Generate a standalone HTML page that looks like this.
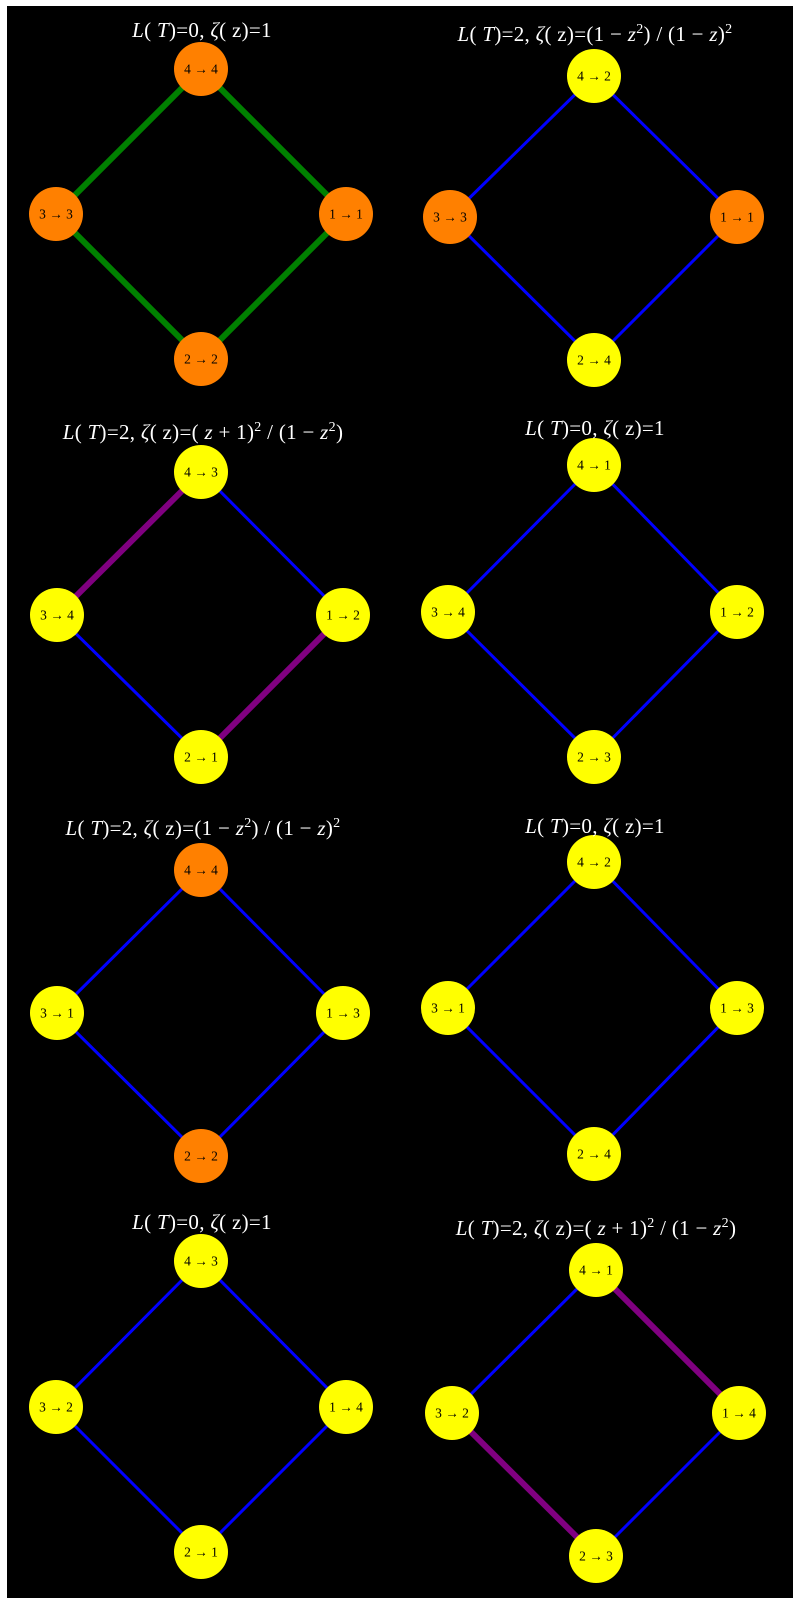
<!DOCTYPE html>
<html><head><meta charset="utf-8"><style>
html,body{margin:0;padding:0;background:#fff;}
svg{display:block}
text{font-family:"Liberation Serif",serif;}
.t{fill:#fff;font-size:21px;text-anchor:middle;letter-spacing:0.3px}
.n{fill:#000;font-size:13.5px;text-anchor:middle;dominant-baseline:central}
</style></head><body>
<svg width="800" height="1604" viewBox="0 0 800 1604" xmlns="http://www.w3.org/2000/svg">
<rect x="7" y="6" width="786" height="1592" fill="#000"/>

<!-- P1 -->
<g>
<line x1="201" y1="69" x2="346" y2="214" stroke="#008000" stroke-width="6"/>
<line x1="201" y1="69" x2="56" y2="214" stroke="#008000" stroke-width="6"/>
<line x1="56" y1="214" x2="201" y2="359" stroke="#008000" stroke-width="6"/>
<line x1="346" y1="214" x2="201" y2="359" stroke="#008000" stroke-width="6"/>
<circle cx="201" cy="69" r="27" fill="#ff8000"/><text class="n" x="201" y="69">4 → 4</text>
<circle cx="56" cy="214" r="27" fill="#ff8000"/><text class="n" x="56" y="214">3 → 3</text>
<circle cx="346" cy="214" r="27" fill="#ff8000"/><text class="n" x="346" y="214">1 → 1</text>
<circle cx="201" cy="359" r="27" fill="#ff8000"/><text class="n" x="201" y="359">2 → 2</text>
<text class="t" x="202" y="37"><tspan font-style="italic">L</tspan>( <tspan font-style="italic">T</tspan>)=0, <tspan font-style="italic">ζ</tspan>( z)=1</text>
</g>

<!-- P2 -->
<g>
<line x1="594" y1="76" x2="737" y2="217" stroke="#0000ff" stroke-width="3"/>
<line x1="594" y1="76" x2="450" y2="217" stroke="#0000ff" stroke-width="3"/>
<line x1="450" y1="217" x2="594" y2="360" stroke="#0000ff" stroke-width="3"/>
<line x1="737" y1="217" x2="594" y2="360" stroke="#0000ff" stroke-width="3"/>
<circle cx="594" cy="76" r="27" fill="#ffff00"/><text class="n" x="594" y="76">4 → 2</text>
<circle cx="450" cy="217" r="27" fill="#ff8000"/><text class="n" x="450" y="217">3 → 3</text>
<circle cx="737" cy="217" r="27" fill="#ff8000"/><text class="n" x="737" y="217">1 → 1</text>
<circle cx="594" cy="360" r="27" fill="#ffff00"/><text class="n" x="594" y="360">2 → 4</text>
<text class="t" x="595" y="41"><tspan font-style="italic">L</tspan>( <tspan font-style="italic">T</tspan>)=2, <tspan font-style="italic">ζ</tspan>( z)=(1 − <tspan font-style="italic">z</tspan><tspan font-size="14" dy="-8">2</tspan><tspan dy="8">) / (1 − </tspan><tspan font-style="italic">z</tspan>)<tspan font-size="14" dy="-8">2</tspan></text>
</g>

<!-- P3 -->
<g>
<line x1="201" y1="472" x2="343" y2="615" stroke="#0000ff" stroke-width="3"/>
<line x1="201" y1="472" x2="57" y2="615" stroke="#800080" stroke-width="6"/>
<line x1="57" y1="615" x2="201" y2="757" stroke="#0000ff" stroke-width="3"/>
<line x1="343" y1="615" x2="201" y2="757" stroke="#800080" stroke-width="6"/>
<circle cx="201" cy="472" r="27" fill="#ffff00"/><text class="n" x="201" y="472">4 → 3</text>
<circle cx="57" cy="615" r="27" fill="#ffff00"/><text class="n" x="57" y="615">3 → 4</text>
<circle cx="343" cy="615" r="27" fill="#ffff00"/><text class="n" x="343" y="615">1 → 2</text>
<circle cx="201" cy="757" r="27" fill="#ffff00"/><text class="n" x="201" y="757">2 → 1</text>
<text class="t" x="203" y="439"><tspan font-style="italic">L</tspan>( <tspan font-style="italic">T</tspan>)=2, <tspan font-style="italic">ζ</tspan>( z)=( <tspan font-style="italic">z</tspan> + 1)<tspan font-size="14" dy="-8">2</tspan><tspan dy="8"> / (1 − </tspan><tspan font-style="italic">z</tspan><tspan font-size="14" dy="-8">2</tspan><tspan dy="8">)</tspan></text>
</g>

<!-- P4 -->
<g>
<line x1="594" y1="465" x2="737" y2="612" stroke="#0000ff" stroke-width="3"/>
<line x1="594" y1="465" x2="448" y2="612" stroke="#0000ff" stroke-width="3"/>
<line x1="448" y1="612" x2="594" y2="757" stroke="#0000ff" stroke-width="3"/>
<line x1="737" y1="612" x2="594" y2="757" stroke="#0000ff" stroke-width="3"/>
<circle cx="594" cy="465" r="27" fill="#ffff00"/><text class="n" x="594" y="465">4 → 1</text>
<circle cx="448" cy="612" r="27" fill="#ffff00"/><text class="n" x="448" y="612">3 → 4</text>
<circle cx="737" cy="612" r="27" fill="#ffff00"/><text class="n" x="737" y="612">1 → 2</text>
<circle cx="594" cy="757" r="27" fill="#ffff00"/><text class="n" x="594" y="757">2 → 3</text>
<text class="t" x="595" y="435"><tspan font-style="italic">L</tspan>( <tspan font-style="italic">T</tspan>)=0, <tspan font-style="italic">ζ</tspan>( z)=1</text>
</g>

<!-- P5 -->
<g>
<line x1="201" y1="870" x2="343" y2="1013" stroke="#0000ff" stroke-width="3"/>
<line x1="201" y1="870" x2="57" y2="1013" stroke="#0000ff" stroke-width="3"/>
<line x1="57" y1="1013" x2="201" y2="1156" stroke="#0000ff" stroke-width="3"/>
<line x1="343" y1="1013" x2="201" y2="1156" stroke="#0000ff" stroke-width="3"/>
<circle cx="201" cy="870" r="27" fill="#ff8000"/><text class="n" x="201" y="870">4 → 4</text>
<circle cx="57" cy="1013" r="27" fill="#ffff00"/><text class="n" x="57" y="1013">3 → 1</text>
<circle cx="343" cy="1013" r="27" fill="#ffff00"/><text class="n" x="343" y="1013">1 → 3</text>
<circle cx="201" cy="1156" r="27" fill="#ff8000"/><text class="n" x="201" y="1156">2 → 2</text>
<text class="t" x="203" y="835"><tspan font-style="italic">L</tspan>( <tspan font-style="italic">T</tspan>)=2, <tspan font-style="italic">ζ</tspan>( z)=(1 − <tspan font-style="italic">z</tspan><tspan font-size="14" dy="-8">2</tspan><tspan dy="8">) / (1 − </tspan><tspan font-style="italic">z</tspan>)<tspan font-size="14" dy="-8">2</tspan></text>
</g>

<!-- P6 -->
<g>
<line x1="594" y1="862" x2="737" y2="1008" stroke="#0000ff" stroke-width="3"/>
<line x1="594" y1="862" x2="448" y2="1008" stroke="#0000ff" stroke-width="3"/>
<line x1="448" y1="1008" x2="594" y2="1154" stroke="#0000ff" stroke-width="3"/>
<line x1="737" y1="1008" x2="594" y2="1154" stroke="#0000ff" stroke-width="3"/>
<circle cx="594" cy="862" r="27" fill="#ffff00"/><text class="n" x="594" y="862">4 → 2</text>
<circle cx="448" cy="1008" r="27" fill="#ffff00"/><text class="n" x="448" y="1008">3 → 1</text>
<circle cx="737" cy="1008" r="27" fill="#ffff00"/><text class="n" x="737" y="1008">1 → 3</text>
<circle cx="594" cy="1154" r="27" fill="#ffff00"/><text class="n" x="594" y="1154">2 → 4</text>
<text class="t" x="595" y="833"><tspan font-style="italic">L</tspan>( <tspan font-style="italic">T</tspan>)=0, <tspan font-style="italic">ζ</tspan>( z)=1</text>
</g>

<!-- P7 -->
<g>
<line x1="201" y1="1261" x2="346" y2="1407" stroke="#0000ff" stroke-width="3"/>
<line x1="201" y1="1261" x2="56" y2="1407" stroke="#0000ff" stroke-width="3"/>
<line x1="56" y1="1407" x2="201" y2="1552" stroke="#0000ff" stroke-width="3"/>
<line x1="346" y1="1407" x2="201" y2="1552" stroke="#0000ff" stroke-width="3"/>
<circle cx="201" cy="1261" r="27" fill="#ffff00"/><text class="n" x="201" y="1261">4 → 3</text>
<circle cx="56" cy="1407" r="27" fill="#ffff00"/><text class="n" x="56" y="1407">3 → 2</text>
<circle cx="346" cy="1407" r="27" fill="#ffff00"/><text class="n" x="346" y="1407">1 → 4</text>
<circle cx="201" cy="1552" r="27" fill="#ffff00"/><text class="n" x="201" y="1552">2 → 1</text>
<text class="t" x="202" y="1229"><tspan font-style="italic">L</tspan>( <tspan font-style="italic">T</tspan>)=0, <tspan font-style="italic">ζ</tspan>( z)=1</text>
</g>

<!-- P8 -->
<g>
<line x1="596" y1="1270" x2="739" y2="1413" stroke="#800080" stroke-width="6"/>
<line x1="596" y1="1270" x2="452" y2="1413" stroke="#0000ff" stroke-width="3"/>
<line x1="452" y1="1413" x2="596" y2="1556" stroke="#800080" stroke-width="6"/>
<line x1="739" y1="1413" x2="596" y2="1556" stroke="#0000ff" stroke-width="3"/>
<circle cx="596" cy="1270" r="27" fill="#ffff00"/><text class="n" x="596" y="1270">4 → 1</text>
<circle cx="452" cy="1413" r="27" fill="#ffff00"/><text class="n" x="452" y="1413">3 → 2</text>
<circle cx="739" cy="1413" r="27" fill="#ffff00"/><text class="n" x="739" y="1413">1 → 4</text>
<circle cx="596" cy="1556" r="27" fill="#ffff00"/><text class="n" x="596" y="1556">2 → 3</text>
<text class="t" x="596" y="1235"><tspan font-style="italic">L</tspan>( <tspan font-style="italic">T</tspan>)=2, <tspan font-style="italic">ζ</tspan>( z)=( <tspan font-style="italic">z</tspan> + 1)<tspan font-size="14" dy="-8">2</tspan><tspan dy="8"> / (1 − </tspan><tspan font-style="italic">z</tspan><tspan font-size="14" dy="-8">2</tspan><tspan dy="8">)</tspan></text>
</g>
</svg>
</body></html>
